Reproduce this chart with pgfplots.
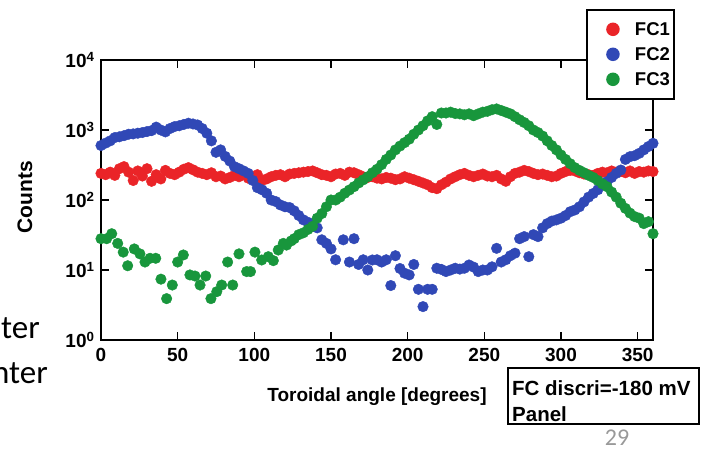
\documentclass[border=0pt]{standalone}
\usepackage{pgfplots}
\pgfplotsset{compat=1.18}
\usepackage{fontspec}
\setmainfont{Liberation Sans}
\newfontfamily\calibri{Carlito}
\definecolor{cRed}{RGB}{234,36,40}
\definecolor{cBlue}{RGB}{48,72,182}
\definecolor{cGreen}{RGB}{24,150,60}
\newcommand{\lf}{\bfseries\fontsize{18.5}{20}\selectfont}
\newcommand{\tf}{\bfseries\fontsize{19}{21}\selectfont}
\begin{document}
\begin{tikzpicture}
\path[use as bounding box] (0pt,0pt) rectangle (706pt,448pt);
\begin{axis}[
  at={(101pt,108pt)}, anchor=south west,
  width=552pt, height=280pt, scale only axis,
  ymode=log, xmin=0, xmax=360, ymin=1, ymax=10000,
  xtick={0,50,100,150,200,250,300,350},
  xticklabels={\tf 0,\tf 50,\tf 100,\tf 150,\tf 200,\tf 250,\tf 300,\tf 350},
  ytick={1,10,100,1000,10000},
  yticklabels={\tf 10\textsuperscript{0},\tf 10\textsuperscript{1},\tf 10\textsuperscript{2},\tf 10\textsuperscript{3},\tf 10\textsuperscript{4}},
  yminorticks=false,
  tick align=inside, major tick length=8pt,
  axis line style={line width=1.6pt},
  tick style={line width=1.4pt, black},
  xticklabel style={yshift=-5pt},
  yticklabel style={xshift=-3pt},
  xlabel={\tf Toroidal angle [degrees]},
  ylabel={\bfseries\fontsize{21}{23}\selectfont Counts},
  xlabel style={at={(axis description cs:0.5,-0.2036)}, anchor=center},
  ylabel style={at={(axis description cs:-0.1377,0.51)}, anchor=center},
  legend style={at={(axis description cs:0.879,1.182)}, anchor=north west,
    draw=black, line width=1.5pt, fill=white,
    inner xsep=2pt, inner ysep=7pt, row sep=0pt},
  legend cell align=right,
  every axis plot/.append style={only marks, mark=*, mark size=5.3pt,
    legend image code/.code={\path[draw=none,fill=none] (0pt,-12.5pt) rectangle (44pt,12.5pt);
      \draw[##1, mark size=6pt] plot coordinates {(24pt,0pt)};}},
  clip=false,
]
\addplot[cRed, mark options={fill=cRed, draw=cRed}] coordinates {
(0,240)(3,230)(6,250)(9,225)(12,280)(15,300)(18,250)(21,190)(24,260)(27,220)
(30,280)(33,185)(36,230)(39,200)(42,265)(45,240)(48,230)(51,250)(54,275)(57,290)
(60,270)(63,250)(66,240)(69,230)(72,245)(75,215)(78,220)(81,200)(84,210)(87,225)
(90,215)(93,235)(96,205)(99,215)(102,230)(105,190)(108,200)(111,215)(114,225)(117,230)
(120,215)(123,235)(126,240)(129,245)(132,250)(135,255)(138,260)(141,245)(144,230)(147,225)
(150,215)(153,235)(156,240)(159,225)(162,250)(165,245)(168,230)(171,215)(174,210)(177,215)
(180,205)(183,200)(186,210)(189,205)(192,195)(195,200)(198,215)(201,205)(204,195)(207,185)
(210,175)(213,165)(216,150)(219,145)(222,165)(225,180)(228,200)(231,215)(234,230)(237,240)
(240,225)(243,215)(246,225)(249,235)(252,220)(255,215)(258,225)(261,200)(264,185)(267,215)
(270,240)(273,250)(276,265)(279,255)(282,240)(285,230)(288,235)(291,225)(294,215)(297,220)
(300,240)(303,255)(306,265)(309,260)(312,245)(315,235)(318,230)(321,225)(324,240)(327,250)
(330,245)(333,260)(336,250)(339,255)(342,245)(345,260)(348,240)(351,255)(354,250)(357,260)(360,255)
};
\addlegendentry{\lf FC1}
\addplot[cBlue, mark options={fill=cBlue, draw=cBlue}] coordinates {
(0,600)(3,650)(6,700)(9,780)(12,800)(15,830)(18,870)(21,880)(24,900)(27,920)
(30,950)(33,980)(36,1100)(39,1000)(42,940)(45,1050)(48,1120)(51,1150)(54,1200)(57,1250)
(60,1220)(63,1180)(66,1050)(69,900)(72,700)(75,480)(78,520)(81,420)(84,360)(87,300)
(90,280)(93,260)(96,240)(99,190)(102,150)(105,140)(108,125)(111,100)(114,95)(117,85)
(120,80)(123,78)(126,70)(129,60)(132,52)(135,48)(138,45)(141,40)(144,27)(147,24)
(150,20)(153,14)(158,27)(162,13)(165,28)(168,12)(171,14)(174,10)(177,13.9)(180,14)
(183,13)(186,14)(189,6)(192,16)(195,10.5)(198,9)(201,8.5)(204,12)(207,5.3)(210,3.0)
(213,5.3)(216,5.3)(219,10.6)(222,10.2)(225,9.5)(228,10)(231,10.6)(234,10.3)(237,10.6)(240,11.8)
(243,11)(246,9.5)(249,10)(252,10)(255,11.1)(258,20.4)(261,13)(264,14)(267,16)(270,17.4)
(273,28)(276,30)(279,15.5)(282,32)(285,30)(288,40)(291,46)(294,50)(297,52)(300,55)
(303,60)(306,68)(309,72)(312,80)(315,94)(318,110)(321,124)(324,140)(327,165)(330,183)
(333,210)(336,240)(339,268)(342,380)(345,416)(348,430)(351,464)(354,520)(357,580)(360,645)
};
\addlegendentry{\lf FC2}
\addplot[cGreen, mark options={fill=cGreen, draw=cGreen}] coordinates {
(0,28)(3.7,28)(7,33)(10.9,24)(14.5,18)(17.4,11.5)(21.7,20)(25.4,17)(28.7,13)(32,14.7)
(35.7,14.7)(39.1,7.4)(42.8,3.9)(46.5,6.1)(50,13)(53.7,16.4)(58,8.5)(61.3,8.2)(64.6,6.1)(68.3,8.2)
(71.7,3.9)(75.5,4.9)(78.7,6.1)(82.6,13)(85.9,6.1)(90,17)(95,9.5)(97.5,9.5)(100.4,18)(104.8,13.9)
(109.1,15.5)(112.4,13.6)(115.6,19.3)(118.9,24)(121,22.7)(124,26)(126,28)(129,32)(132,34)(135,38)
(138,42)(141,55)(144,64)(147,80)(150,100)(153,100)(156,110)(159,125)(162,139)(165,155)
(168,175)(171,194)(174,215)(177,245)(180,275)(183,320)(186,380)(189,440)(192,520)(195,590)
(198,660)(201,740)(204,870)(207,1000)(210,1150)(213,1350)(216,1550)(219,1200)(222,1750)(225,1750)
(228,1800)(231,1720)(234,1700)(237,1650)(240,1700)(243,1600)(246,1700)(249,1800)(252,1850)(255,1950)
(258,2000)(261,1900)(264,1800)(267,1700)(270,1550)(273,1400)(276,1280)(279,1150)(282,1000)(285,920)
(288,820)(291,700)(294,600)(297,520)(300,440)(303,380)(306,330)(309,290)(312,265)(315,245)
(318,225)(321,210)(324,190)(327,170)(330,155)(333,130)(336,110)(339,90)(342,76)(345,65)
(348,58)(351,55)(354,46)(357,49)(360,33)
};
\addlegendentry{\lf FC3}
\end{axis}
\draw[line width=1.5pt] (508pt,80pt) rectangle (699pt,24pt);
\node[anchor=base west, inner sep=0pt, font=\bfseries\fontsize{20.5}{22}\selectfont] at (512pt,53pt) {FC discri=-180 mV};
\node[anchor=base west, inner sep=0pt, font=\bfseries\fontsize{20.5}{22}\selectfont] at (512pt,26.5pt) {Panel};
\node[anchor=base east, inner sep=0pt, font=\calibri\fontsize{33}{35}\selectfont] at (40pt,110pt) {ter};
\node[anchor=base east, inner sep=0pt, font=\calibri\fontsize{33}{35}\selectfont] at (48pt,65pt) {nter};
\node[anchor=base, inner sep=0pt, text=black!40, font=\calibri\fontsize{24}{26}\selectfont] at (617pt,2.5pt) {29};
\end{tikzpicture}
\end{document}
